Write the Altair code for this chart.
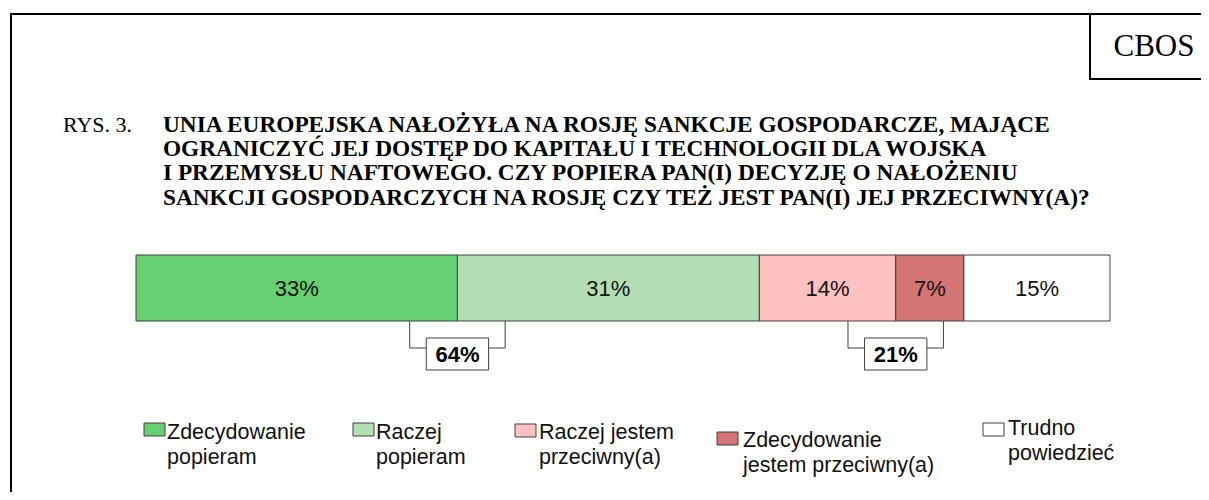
import altair as alt
import pandas as pd

# ---- data ----
categories = [
    "Zdecydowanie popieram",
    "Raczej popieram",
    "Raczej jestem przeciwny(a)",
    "Zdecydowanie jestem przeciwny(a)",
    "Trudno powiedzieć",
]
values = [33, 31, 14, 7, 15]
legend_lines = [
    ["Zdecydowanie", "popieram"],
    ["Raczej", "popieram"],
    ["Raczej jestem", "przeciwny(a)"],
    ["Zdecydowanie", "jestem przeciwny(a)"],
    ["Trudno", "powiedzieć"],
]
colors = ["#66CF70", "#B3DDB3", "#FFC0C0", "#D47474", "#FFFFFF"]
group_members = [[0, 1], [2, 3]]

title_lines = [
    "UNIA EUROPEJSKA NAŁOŻYŁA NA ROSJĘ SANKCJE GOSPODARCZE, MAJĄCE",
    "OGRANICZYĆ JEJ DOSTĘP DO KAPITAŁU I TECHNOLOGII DLA WOJSKA",
    "I PRZEMYSŁU NAFTOWEGO. CZY POPIERA PAN(I) DECYZJĘ O NAŁOŻENIU",
    "SANKCJI GOSPODARCZYCH NA ROSJĘ CZY TEŻ JEST PAN(I) JEJ PRZECIWNY(A)?",
]

# ---- layout (pixels inside the chart; page = chart + 8) ----
W, H = 1193, 484
BAR_TOP, BAR_BOT = 247, 313
BR_Y = 340
BOX_TOP, BOX_BOT = 330, 362
leg_x = [136, 345, 507, 709, 975]
leg_sq_top = [415, 415, 416, 424, 415]
leg_base = [431, 431, 431, 439, 427]
leg_tx = [23, 23, 24, 26, 25]

df = pd.DataFrame({"category": categories, "value": values, "color": colors})
df["end"] = df["value"].cumsum()
df["start"] = df["end"] - df["value"]
df["mid"] = (df["start"] + df["end"]) / 2
df["label"] = df["value"].astype(str) + "%"

rows = []
for m in group_members:
    c = float(df.loc[m[0], "end"])
    tot = int(df.loc[m, "value"].sum())
    rows.append({"c": c, "bl": c - 4.9, "br": c + 4.9, "xl": c - 3.2, "xr": c + 3.2,
                 "label": f"{tot}%"})
gdf = pd.DataFrame(rows)

xs = alt.Scale(domain=[0, 100], range=[128, 1102])

bars = alt.Chart(df).mark_rect(stroke="#404040", strokeWidth=1).encode(
    x=alt.X("start:Q", scale=xs, axis=None),
    x2="end:Q",
    y=alt.value(BAR_TOP),
    y2=alt.value(BAR_BOT),
    color=alt.Color("color:N", scale=None),
)
labels = alt.Chart(df).mark_text(font="Liberation Sans", fontSize=22, baseline="middle", color="#111").encode(
    x=alt.X("mid:Q", scale=xs, axis=None),
    y=alt.value((BAR_TOP + BAR_BOT) / 2 + 1),
    text="label:N",
)
vl = alt.Chart(gdf).mark_rule(color="#404040", strokeWidth=1).encode(
    x=alt.X("bl:Q", scale=xs, axis=None), y=alt.value(BAR_BOT), y2=alt.value(BR_Y))
vr = alt.Chart(gdf).mark_rule(color="#404040", strokeWidth=1).encode(
    x=alt.X("br:Q", scale=xs, axis=None), y=alt.value(BAR_BOT), y2=alt.value(BR_Y))
hz = alt.Chart(gdf).mark_rule(color="#404040", strokeWidth=1).encode(
    x=alt.X("bl:Q", scale=xs, axis=None), x2="br:Q", y=alt.value(BR_Y))
box = alt.Chart(gdf).mark_rect(fill="white", stroke="#404040", strokeWidth=1).encode(
    x=alt.X("xl:Q", scale=xs, axis=None), x2="xr:Q", y=alt.value(BOX_TOP), y2=alt.value(BOX_BOT))
boxt = alt.Chart(gdf).mark_text(font="Liberation Sans", fontSize=22, fontWeight="bold", baseline="middle").encode(
    x=alt.X("c:Q", scale=xs, axis=None), y=alt.value((BOX_TOP + BOX_BOT) / 2 + 1), text="label:N")

one = pd.DataFrame({"a": [0]})
frame = [
    alt.Chart(one).mark_rule(color="black", strokeWidth=2).encode(x=alt.value(3), y=alt.value(6), y2=alt.value(H)),
    alt.Chart(one).mark_rule(color="black", strokeWidth=2).encode(x=alt.value(2), x2=alt.value(W), y=alt.value(6)),
    alt.Chart(one).mark_rule(color="black", strokeWidth=2).encode(x=alt.value(1082), y=alt.value(6), y2=alt.value(71)),
    alt.Chart(one).mark_rule(color="black", strokeWidth=2).encode(x=alt.value(1081), x2=alt.value(W), y=alt.value(71)),
    alt.Chart(one).mark_text(font="Liberation Serif", fontSize=31, align="center", baseline="alphabetic").encode(
        x=alt.value(1146), y=alt.value(48), text=alt.value("CBOS")),
    alt.Chart(one).mark_text(font="Liberation Serif", fontSize=22, align="left", baseline="alphabetic").encode(
        x=alt.value(55), y=alt.value(124), text=alt.value("RYS. 3.")),
    alt.Chart(one).mark_text(font="Liberation Serif", fontSize=23.3, fontWeight="bold", align="left",
                             baseline="alphabetic", lineHeight=24.2).encode(
        x=alt.value(155), y=alt.value(124), text=alt.value(title_lines)),
]

legend = []
for i, cat in enumerate(categories):
    d = pd.DataFrame({"category": [cat]})
    legend.append(alt.Chart(d).mark_rect(fill=colors[i], stroke="#404040", strokeWidth=1).encode(
        x=alt.value(leg_x[i]), x2=alt.value(leg_x[i] + 21),
        y=alt.value(leg_sq_top[i]), y2=alt.value(leg_sq_top[i] + 13)))
    legend.append(alt.Chart(d).mark_text(font="Liberation Sans", fontSize=21.5, align="left",
                                         baseline="alphabetic", lineHeight=24.5, color="#111").encode(
        x=alt.value(leg_x[i] + leg_tx[i]), y=alt.value(leg_base[i]), text=alt.value(legend_lines[i])))

chart = alt.layer(*frame, bars, labels, vl, vr, hz, box, boxt, *legend).properties(
    width=W, height=H, autosize="none", padding=0, background="white"
).configure_view(stroke=None)

chart.save("out.html", embed_options={"renderer": "svg", "actions": False})
